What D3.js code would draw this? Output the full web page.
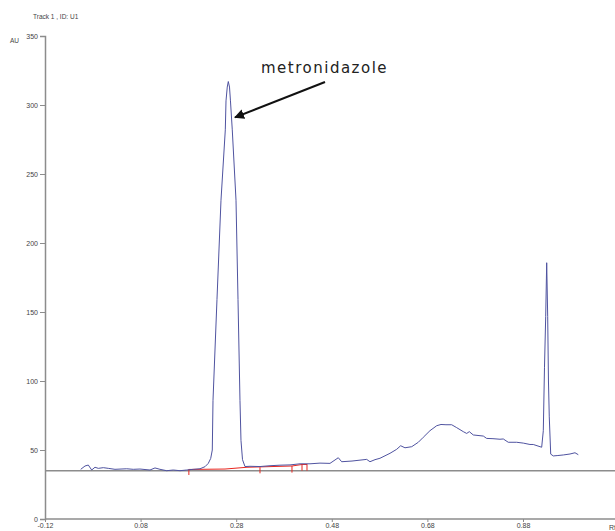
<!DOCTYPE html>
<html>
<head>
<meta charset="utf-8">
<script src="https://cdn.jsdelivr.net/npm/d3@7"></script>
<style>
  body { margin: 0; background: #fff; }
  svg { display: block; }
  .axis text { font-family: "Liberation Sans", Arial, sans-serif; font-size: 7px; fill: #444; }
</style>
</head>
<body>
<div class="viz"></div>
<script>
// Rf positions and detector response (AU)
const rf = [
    -0.0453, -0.0363, -0.0294, -0.0223, -0.0154, -0.0085, 0.002, 0.0124, 0.0264, 0.0509,
    0.0647, 0.0787, 0.0997, 0.1101, 0.1206, 0.1346, 0.1484, 0.1624, 0.1764, 0.1903,
    0.2043, 0.2147, 0.2216, 0.2267, 0.230, 0.2315, 0.2398, 0.2482, 0.2572, 0.2587,
    0.2613, 0.2635, 0.266, 0.268, 0.2718, 0.2796, 0.2838, 0.2879, 0.290, 0.2932,
    0.2984, 0.3089, 0.3298, 0.3507, 0.3716, 0.3926, 0.4135, 0.4344, 0.4553, 0.4762,
    0.4936, 0.5007, 0.5223, 0.553, 0.5599, 0.5704, 0.5808, 0.6018, 0.6158, 0.6241,
    0.6331, 0.6472, 0.661, 0.6714, 0.6854, 0.6995, 0.7085, 0.7189, 0.7308, 0.7413,
    0.7551, 0.7622, 0.7677, 0.776, 0.797, 0.804, 0.8172, 0.8319, 0.8388, 0.8492,
    0.8668, 0.8806, 0.8946, 0.9015, 0.9191, 0.9225, 0.925, 0.9275, 0.9296, 0.9317,
    0.9333, 0.935, 0.938, 0.9434, 0.953, 0.9643, 0.9783, 0.9888, 0.9957
];
const au = [
    36, 38.4, 39.1, 35.5, 37.5, 36.7, 37.2, 36.7, 36, 36.4,
    36, 36.2, 35.5, 37, 36, 35, 35.5, 35, 35.5, 36,
    36.4, 37.9, 40.3, 43.9, 50, 86, 159, 231, 282, 303,
    313, 317, 313, 303, 282, 231, 159, 86, 57, 43,
    38, 38.2, 38, 38.6, 39, 39.2, 40, 40, 40.5, 40.3,
    44.4, 41.5, 42, 43.2, 41.5, 43, 44, 47.6, 50.5, 53.1,
    51.6, 52.4, 55.6, 59.2, 64, 67.6, 68.5, 68.3, 68.3, 66.2,
    63.3, 62, 63.3, 60.9, 60.1, 58.4, 58.2, 57.8, 58, 55.6,
    55.6, 55, 54, 54, 52, 64, 110, 146.6, 185.7, 146.6,
    100, 74, 47, 45.7, 46, 46.4, 47.1, 48, 46.6
];

// integration baseline (red) and peak boundary marks
const baseRf = [0.181, 0.2566, 0.3026, 0.3967, 0.4177, 0.4281];
const baseAu = [35.9, 36.2, 37.5, 38.4, 39.5, 39.5];
const markRf = [0.181, 0.3298, 0.3967, 0.4177, 0.4281];
const markTop = [36.2, 37.5, 38.4, 39.9, 39.9];
const markBottom = [31.9, 33.1, 33.6, 35, 35];

const xTicks = [-0.12, 0.08, 0.28, 0.48, 0.68, 0.88];
const xTickLabels = ['-0.12', '0.08', '0.28', '0.48', '0.68', '0.88'];
const yTicks = [0, 50, 100, 150, 200, 250, 300, 350];
const refLevel = 35;

const peakName = 'metronidazole';
const arrowFrom = [0.4658, 316.7];
const arrowTo = [0.2775, 291];

const w = 615;
const h = 531;
const svg = d3.select('.viz').append('svg')
    .attr('width', w)
    .attr('height', h);

const x = d3.scaleLinear().domain([-0.12, 1.0725]).range([45, 615]);
const y = d3.scaleLinear().domain([0, 350]).range([519, 36]);

svg.append('defs').append('marker')
    .attr('id', 'arrow')
    .attr('viewBox', '0 0 10 10')
    .attr('refX', 9).attr('refY', 5)
    .attr('markerWidth', 5).attr('markerHeight', 5)
    .attr('orient', 'auto')
    .append('path')
    .attr('d', 'M0,0 L10,5 L0,10 z')
    .attr('fill', '#111');

// reference level line
svg.append('line')
    .attr('x1', x(-0.12)).attr('x2', w)
    .attr('y1', y(refLevel)).attr('y2', y(refLevel))
    .attr('stroke', '#8c8c8c')
    .attr('stroke-width', 1.5);

const yAxis = svg.append('g')
    .attr('class', 'axis')
    .attr('transform', `translate(${x(-0.12)},0)`)
    .call(d3.axisLeft(y).tickValues(yTicks).tickSize(5).tickPadding(2));

const xAxis = svg.append('g')
    .attr('class', 'axis')
    .attr('transform', `translate(0,${y(0)})`)
    .call(d3.axisBottom(x).tickValues(xTicks).tickFormat((d, i) => xTickLabels[i]).tickSize(3).tickPadding(1));

[yAxis, xAxis].forEach(a => {
    a.select('.domain').attr('stroke', '#8c8c8c').attr('stroke-width', 1.5);
    a.selectAll('.tick line').attr('stroke', '#8c8c8c');
});
xAxis.select('.domain').attr('d', `M${x(-0.12)},0H${w}`);

// baseline
const pts = rf.map((d, i) => [d, au[i]]);
svg.append('path')
    .datum(baseRf.map((d, i) => [d, baseAu[i]]))
    .attr('fill', 'none')
    .attr('stroke', '#e8261f')
    .attr('stroke-width', 1)
    .attr('d', d3.line().x(d => x(d[0])).y(d => y(d[1])));

svg.selectAll('.mark')
    .data(markRf)
    .enter()
    .append('line')
    .attr('class', 'mark')
    .attr('x1', d => x(d)).attr('x2', d => x(d))
    .attr('y1', (d, i) => y(markTop[i]))
    .attr('y2', (d, i) => y(markBottom[i]))
    .attr('stroke', '#e8261f')
    .attr('stroke-width', 1);

svg.append('path')
    .datum(pts)
    .attr('fill', 'none')
    .attr('stroke', '#4f53a0')
    .attr('stroke-width', 1)
    .attr('d', d3.line().x(d => x(d[0])).y(d => y(d[1])));

// labels
svg.append('text')
    .attr('x', 33).attr('y', 19)
    .style('font-family', '"Liberation Sans", Arial, sans-serif')
    .style('font-size', '6.5px')
    .attr('fill', '#444')
    .text('Track  1 , ID: U1');

svg.append('text')
    .attr('x', 10).attr('y', 43)
    .style('font-family', '"Liberation Sans", Arial, sans-serif')
    .style('font-size', '6.5px')
    .attr('fill', '#444')
    .text('AU');

svg.append('text')
    .attr('x', 609).attr('y', 530)
    .style('font-family', '"Liberation Sans", Arial, sans-serif')
    .style('font-size', '7px')
    .attr('fill', '#444')
    .text('Rf');

svg.append('text')
    .attr('x', 261).attr('y', 73)
    .style('font-family', '"DejaVu Sans", Verdana, sans-serif')
    .style('font-size', '15px')
    .style('letter-spacing', '1.5px')
    .attr('fill', '#222')
    .text(peakName);

svg.append('line')
    .attr('x1', x(arrowFrom[0])).attr('y1', y(arrowFrom[1]))
    .attr('x2', x(arrowTo[0])).attr('y2', y(arrowTo[1]))
    .attr('stroke', '#111')
    .attr('stroke-width', 2)
    .attr('marker-end', 'url(#arrow)');
</script>
</body>
</html>
